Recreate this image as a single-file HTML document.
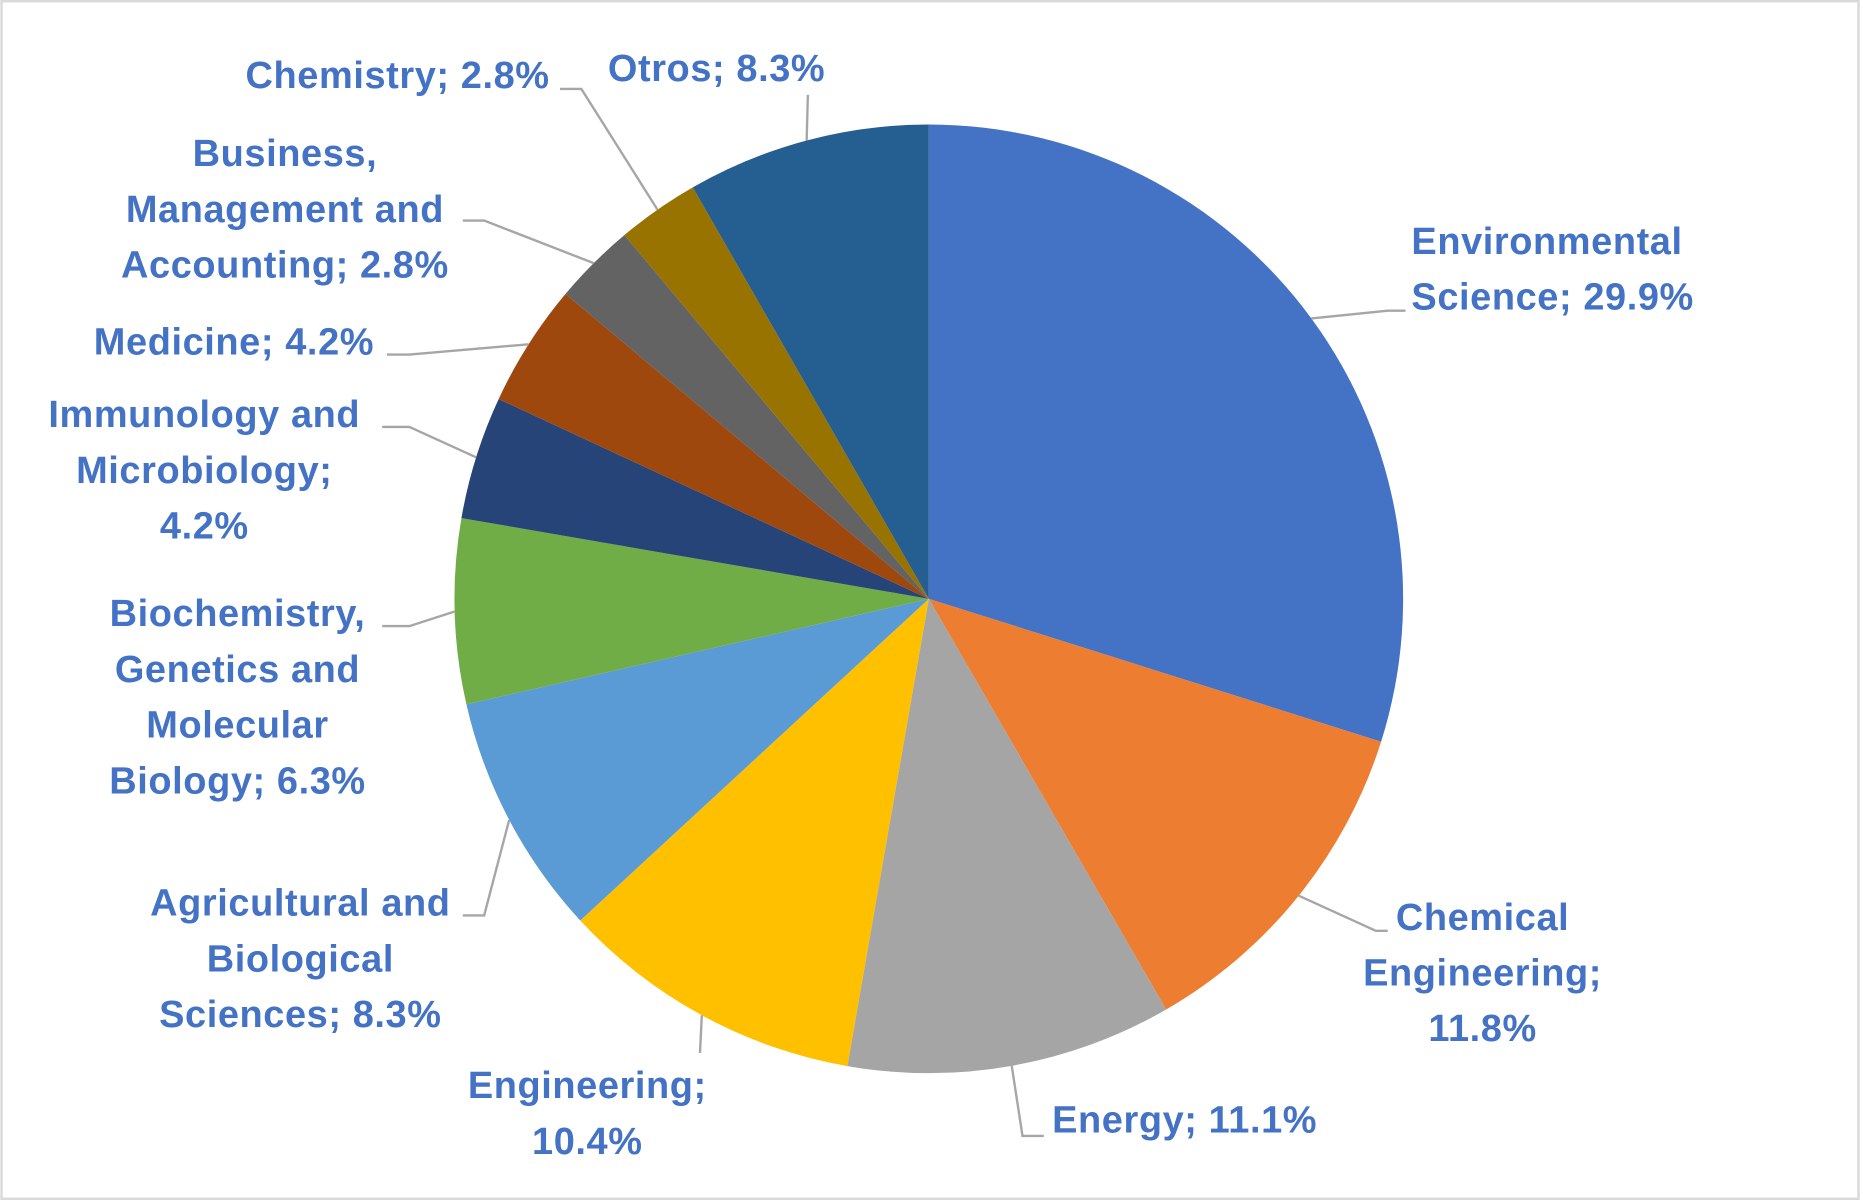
<!DOCTYPE html>
<html><head><meta charset="utf-8">
<style>
html,body{margin:0;padding:0;background:#fff;}
svg{display:block;}
text{font-family:"Liberation Sans",sans-serif;font-weight:bold;font-size:32px;letter-spacing:0.5px;fill:#4472C4;}
</style></head>
<body>
<svg id="chart" width="1860" height="1200" viewBox="0 0 1568 1012" xmlns="http://www.w3.org/2000/svg">
<rect x="1" y="1" width="1566" height="1010" fill="#fff" stroke="#d9d9d9" stroke-width="2"/>
<g id="slices"></g>
<g id="leaders"></g>
<g id="labels"></g>
</svg>
<script>
const categories = ["Environmental Science","Chemical Engineering","Energy","Engineering","Agricultural and Biological Sciences","Biochemistry, Genetics and Molecular Biology","Immunology and Microbiology","Medicine","Business, Management and Accounting","Chemistry","Otros"];
const values = [29.9,11.8,11.1,10.4,8.3,6.3,4.2,4.2,2.8,2.8,8.3];
const labelLines = [
 ["Environmental","Science; 29.9%"],
 ["Chemical","Engineering;","11.8%"],
 ["Energy; 11.1%"],
 ["Engineering;","10.4%"],
 ["Agricultural and","Biological","Sciences; 8.3%"],
 ["Biochemistry,","Genetics and","Molecular","Biology; 6.3%"],
 ["Immunology and","Microbiology;","4.2%"],
 ["Medicine; 4.2%"],
 ["Business,","Management and","Accounting; 2.8%"],
 ["Chemistry; 2.8%"],
 ["Otros; 8.3%"]
];
const colors = ["#4472C4","#ED7D31","#A5A5A5","#FFC000","#5B9BD5","#70AD47","#264478","#9E480E","#636363","#997300","#255E91"];
const layout = [
 {x:1190,y:204,a:"start",ex:1170,ey:262,lx:1185,ly:262},
 {x:1250,y:774,a:"middle",ex:1160,ey:785,lx:1170,ly:785},
 {x:887,y:945,a:"start",ex:862,ey:958,lx:880,ly:958},
 {x:495,y:916,a:"middle",ex:590,ey:888,lx:590,ly:888},
 {x:253,y:762,a:"middle",ex:408,ey:772,lx:390,ly:772},
 {x:200,y:518,a:"middle",ex:345,ey:528,lx:322,ly:528},
 {x:172,y:350,a:"middle",ex:345,ey:360,lx:322,ly:360},
 {x:197,y:289,a:"middle",ex:345,ey:299,lx:326,ly:299},
 {x:240,y:130,a:"middle",ex:408,ey:186,lx:390,ly:186},
 {x:335,y:64,a:"middle",ex:490,ey:75,lx:472,ly:75},
 {x:604,y:58,a:"middle",ex:681,ey:80,lx:681,ly:80}
];
const NS="http://www.w3.org/2000/svg";
const cx=783, cy=505, r=400;
const total=values.reduce((a,b)=>a+b,0);
function pt(frac,rad){const a=frac*2*Math.PI-Math.PI/2;return [cx+rad*Math.cos(a),cy+rad*Math.sin(a)];}
const gS=document.getElementById('slices'),gL=document.getElementById('leaders'),gT=document.getElementById('labels');
let acc=0;
values.forEach((v,i)=>{
  const f0=acc/total, f1=(acc+v)/total; acc+=v;
  const p0=pt(f0,r), p1=pt(f1,r);
  const large=(f1-f0)>0.5?1:0;
  const p=document.createElementNS(NS,'path');
  p.setAttribute('d',`M${cx},${cy} L${p0[0]},${p0[1]} A${r},${r} 0 ${large} 1 ${p1[0]},${p1[1]} Z`);
  p.setAttribute('fill',colors[i]);
  
  
  gS.appendChild(p);
  const L=layout[i];
  const m=pt((f0+f1)/2,r);
  const line=document.createElementNS(NS,'polyline');
  line.setAttribute('points',`${m[0]},${m[1]} ${L.ex},${L.ey} ${L.lx},${L.ly}`);
  line.setAttribute('fill','none');line.setAttribute('stroke','#a6a6a6');line.setAttribute('stroke-width','2');
  
  
  gL.appendChild(line);
  const t=document.createElementNS(NS,'text');
  t.setAttribute('text-anchor',L.a);
  t.setAttribute('dominant-baseline','central');
  
  
  labelLines[i].forEach((s,k)=>{
    const ts=document.createElementNS(NS,'tspan');
    ts.setAttribute('x',L.x);ts.setAttribute('y',L.y+k*47);
    ts.textContent=s;t.appendChild(ts);
  });
  gT.appendChild(t);
});
</script>
</body></html>
